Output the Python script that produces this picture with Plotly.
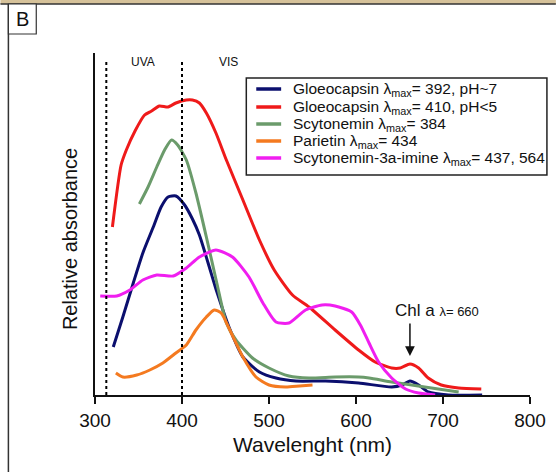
import plotly.graph_objects as go

# ---------------- data (relative absorbance, arbitrary units) ----------------
series_names = [
    "Gloeocapsin λ<sub>max</sub>= 392, pH~7",
    "Gloeocapsin λ<sub>max</sub>= 410, pH<5",
    "Scytonemin λ<sub>max</sub>= 384",
    "Parietin λ<sub>max</sub>= 434",
    "Scytonemin-3a-imine λ<sub>max</sub>= 437, 564",
]
series_colors = ["#0b0f6e", "#ef1a1a", "#6b9b6b", "#f47a20", "#f01ef0"]

gloeo7_wl = [321, 332, 344, 355, 367, 376, 384, 393, 403, 412, 420, 430, 439, 447, 454,
             470, 489, 508, 531, 565, 603, 641, 653, 662, 672, 683, 706, 745]
gloeo7_abs = [48, 78, 112, 142, 168, 188, 198, 199, 190, 176, 160, 132, 106, 85, 68,
              38, 23, 17, 14, 14, 12, 8, 10, 14, 10, 3, 0, 0]

gloeo5_wl = [320, 330, 336, 346, 357, 365, 374, 384, 393, 405, 412, 420, 428, 439,
             451, 470, 489, 506, 527, 546, 576, 603, 622, 641, 651, 662, 672, 683,
             698, 718, 744]
gloeo5_abs = [168, 230, 245, 264, 280, 284, 289, 288, 292, 295, 295, 292, 282, 262,
              235, 195, 155, 125, 100, 88, 65, 45, 33, 27, 27, 31, 27, 17,
              10, 7, 6]

scyto_wl = [351, 361, 371, 380, 388, 395, 405, 416, 428, 440, 451, 462, 481, 500,
            523, 546, 576, 603, 615, 641, 679, 718]
scyto_abs = [191, 208, 228, 245, 255, 250, 235, 202, 158, 112, 72, 55, 37, 27,
             19, 17, 18, 18, 17, 13, 8, 3]

parietin_wl = [324, 332, 348, 363, 378, 393, 405, 416, 428, 437, 445, 455, 470, 485,
               500, 519, 535, 550]
parietin_abs = [22, 18, 20, 25, 32, 42, 50, 65, 78, 85, 82, 65, 38, 18,
                10, 8, 9, 10]

imine_wl = [306, 325, 340, 355, 371, 390, 405, 420, 439, 458, 477, 493,
            508, 523, 542, 561, 576, 595, 605, 615, 626, 641, 657, 672, 691]
imine_abs = [99, 99, 105, 115, 120, 119, 127, 138, 145, 138, 118, 92,
             73, 72, 85, 90, 89, 83, 70, 52, 33, 17, 6, 2, 0]

x_ticks = [300, 400, 500, 600, 700, 800]
region_bounds = [313, 400]
region_labels = ["UVA", "VIS"]
region_label_x = [355, 453]
chl_wavelength = 662
chl_level = 39

all_series = [
    (gloeo7_wl, gloeo7_abs),
    (gloeo5_wl, gloeo5_abs),
    (scyto_wl, scyto_abs),
    (parietin_wl, parietin_abs),
    (imine_wl, imine_abs),
]

FONT = "Arial, Liberation Sans, Helvetica, sans-serif"

fig = go.Figure()
for (wl, ab), name, col in zip(all_series, series_names, series_colors):
    fig.add_trace(go.Scatter(
        x=wl, y=ab, mode="lines", name=name,
        line=dict(color=col, width=3, shape="spline", smoothing=0.6),
        showlegend=False, hoverinfo="skip",
    ))

shapes = []
annotations = []

# dotted region boundaries
for b in region_bounds:
    shapes.append(dict(type="line", xref="x", yref="y", x0=b, x1=b, y0=0, y1=335,
                       line=dict(color="black", width=2, dash="dot")))
for lab, lx in zip(region_labels, region_label_x):
    annotations.append(dict(x=lx, y=333, xref="x", yref="y", text=lab, showarrow=False,
                            font=dict(size=12, color="#111", family=FONT),
                            xanchor="center", yanchor="middle"))

# manual legend
def px_x(p):
    return (p - 95) / 437.0

def px_y(p):
    return (395 - p) / 342.0

shapes.append(dict(type="rect", xref="paper", yref="paper",
                   x0=px_x(247), x1=px_x(549), y0=px_y(175), y1=px_y(78),
                   line=dict(color="#222", width=1.5), fillcolor="white", layer="above"))
row_y = [89, 107, 124, 141, 158]
for i, (name, col) in enumerate(zip(series_names, series_colors)):
    shapes.append(dict(type="line", xref="paper", yref="paper",
                       x0=px_x(257), x1=px_x(282), y0=px_y(row_y[i]), y1=px_y(row_y[i]),
                       line=dict(color=col, width=3.5), layer="above"))
    annotations.append(dict(x=px_x(292), y=px_y(row_y[i]), xref="paper", yref="paper",
                            text=name, showarrow=False, xanchor="left", yanchor="middle",
                            font=dict(size=15.5, color="#111", family=FONT)))

# Chl a annotation
annotations.append(dict(x=px_x(439), y=px_y(310), xref="paper", yref="paper",
                        text="Chl a <span style='font-size:13px'>λ= 660</span>",
                        showarrow=False, xanchor="center", yanchor="middle",
                        font=dict(size=17, color="#111", family=FONT)))
annotations.append(dict(x=chl_wavelength, y=chl_level, xref="x", yref="y", text="",
                        showarrow=True, ax=0, ay=-34, arrowhead=2, arrowsize=1.3,
                        arrowwidth=1.5, arrowcolor="#111"))

# y title
annotations.append(dict(x=px_x(70), y=px_y(239), xref="paper", yref="paper",
                        text="Relative absorbance", textangle=-90, showarrow=False,
                        xanchor="center", yanchor="middle",
                        font=dict(size=20, color="#111", family=FONT)))

# frame decoration
shapes.append(dict(type="rect", xref="paper", yref="paper",
                   x0=px_x(0), x1=px_x(558), y0=px_y(4), y1=px_y(-2),
                   line=dict(width=0), fillcolor="#d6c29a"))
shapes.append(dict(type="line", xref="paper", yref="paper",
                   x0=px_x(0), x1=px_x(558), y0=px_y(4), y1=px_y(4),
                   line=dict(color="#333", width=1.5)))
shapes.append(dict(type="line", xref="paper", yref="paper",
                   x0=px_x(8), x1=px_x(8), y0=px_y(4), y1=px_y(480),
                   line=dict(color="#333", width=1.5)))
shapes.append(dict(type="rect", xref="paper", yref="paper",
                   x0=px_x(8), x1=px_x(36), y0=px_y(34), y1=px_y(4),
                   line=dict(color="#333", width=1.2), fillcolor="white"))
annotations.append(dict(x=px_x(22), y=px_y(19), xref="paper", yref="paper", text="B",
                        showarrow=False, xanchor="center", yanchor="middle",
                        font=dict(size=20, color="#111", family=FONT)))

fig.update_layout(
    width=558, height=472,
    margin=dict(l=95, r=26, t=53, b=77),
    paper_bgcolor="white", plot_bgcolor="white",
    font=dict(family=FONT, color="#111"),
    shapes=shapes, annotations=annotations,
    hovermode=False,
    xaxis=dict(range=[300, 800], tickvals=x_ticks, showgrid=False, zeroline=False,
               showline=True, linecolor="#111", linewidth=2, ticks="outside",
               ticklen=7, tickwidth=2, tickcolor="#111",
               tickfont=dict(size=19, family=FONT, color="#111"),
               title=dict(text="Wavelenght (nm)", font=dict(size=21, family=FONT, color="#111"),
                          standoff=8)),
    yaxis=dict(range=[0, 342], showgrid=False, zeroline=False, showline=True,
               linecolor="#111", linewidth=2, showticklabels=False, ticks=""),
)

fig.write_html("out.html", config={"displayModeBar": False, "staticPlot": True},
               post_script="document.body.style.margin='0';document.body.style.overflow='hidden';")
